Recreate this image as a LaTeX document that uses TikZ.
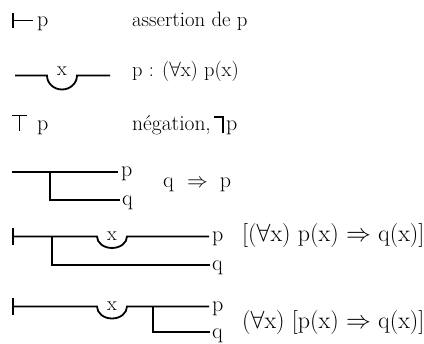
\documentclass[tikz,border=0pt]{standalone}
\begin{document}
\begin{tikzpicture}[x=1pt,y=-1pt,
  stroke/.style={line width=1.8pt,line cap=butt},
  txt/.style={inner sep=0pt,anchor=base west},
  lab/.style={font=\fontsize{22}{26}\selectfont,inner sep=0pt,anchor=base west},
  var/.style={font=\fontsize{20}{24}\selectfont,inner sep=0pt,anchor=base}]
\useasboundingbox (0,0) rectangle (424,344);
% ---- row 1 : assertion
\coordinate (r1a) at (13,13); \coordinate (r1b) at (13,28);
\node[lab] (r1p) at (37,27) {p};
\draw[stroke] (r1a) -- (r1b);
\draw[stroke] (13,20.5) -- ([xshift=-4pt]r1p.west |- 0,20.5);
\node[txt,font=\fontsize{20.8}{24}\selectfont] (r1t) at (132,27) {assertion de p};
% ---- row 2 : quantifier
\coordinate (r2s) at (15,75.5); \coordinate (r2e) at (110,75.5);
\draw[stroke] (r2s) -- (47,75.5) arc[start angle=180,end angle=0,x radius=15,y radius=14] -- (r2e);
\node[var] (r2x) at (62,76) {x};
\node[txt,font=\fontsize{20.4}{24}\selectfont] (r2t) at (132,77) {p : ($\forall$x) p(x)};
% ---- row 3 : negation
\coordinate (r3a) at (12,115.5); \coordinate (r3b) at (27,115.5);
\coordinate (r3c) at (19.5,115.5); \coordinate (r3d) at (19.5,131);
\draw[stroke] (r3a) -- (r3b);
\draw[stroke] (r3c) -- (r3d);
\node[lab] (r3p) at (37,131) {p};
\node[txt,font=\fontsize{21.5}{25}\selectfont] (r3t) at (132,131) {négation,};
\node[lab] (r3n) at (226,131) {p};
\draw[stroke] (214,117) -- (223,117) -- (223,133);
% ---- row 4 : conditional
\node[lab] (r4p) at (121,177) {p};
\node[lab] (r4q) at (122,206) {q};
\coordinate (r4s) at (12,172); \coordinate (r4k) at (50,172); \coordinate (r4l) at (50,200);
\draw[stroke] (r4s) -- ([xshift=-3pt]r4p.west |- r4s);
\draw[stroke] (r4k) -- (r4l) -- ([xshift=-2pt]r4q.west |- r4l);
\node[txt,font=\fontsize{22}{26}\selectfont] (r4t) at (163,188) {q\hspace{0.6em}$\Rightarrow$\hspace{0.55em}p};
% ---- row 5
\node[lab] (r5p) at (212,242) {p};
\node[lab] (r5q) at (212,271) {q};
\coordinate (r5a) at (13,228); \coordinate (r5b) at (13,245);
\draw[stroke] (r5a) -- (r5b);
\draw[stroke] (13,236.5) -- (97,236.5) arc[start angle=180,end angle=0,x radius=15,y radius=11.5] -- ([xshift=-3pt]r5p.west |- 0,236.5);
\node[var] (r5x) at (112,241) {x};
\coordinate (r5k) at (52,236.5); \coordinate (r5l) at (52,265);
\draw[stroke] (r5k) -- (r5l) -- ([xshift=-2pt]r5q.west |- r5l);
\node[txt,font=\fontsize{24}{28}\selectfont] (r5t) at (242,242) {[($\forall$x) p(x) $\Rightarrow$ q(x)]};
% ---- row 6
\node[lab] (r6p) at (212,312) {p};
\node[lab] (r6q) at (212,339) {q};
\coordinate (r6a) at (13,298); \coordinate (r6b) at (13,315);
\draw[stroke] (r6a) -- (r6b);
\draw[stroke] (13,306.5) -- (97,306.5) arc[start angle=180,end angle=0,x radius=15,y radius=12] -- ([xshift=-3pt]r6p.west |- 0,306.5);
\node[var] (r6x) at (112,311) {x};
\coordinate (r6k) at (153,306.5); \coordinate (r6l) at (153,332);
\draw[stroke] (r6k) -- (r6l) -- ([xshift=-2pt]r6q.west |- r6l);
\node[txt,font=\fontsize{24}{28}\selectfont] (r6t) at (242,329) {($\forall$x) [p(x) $\Rightarrow$ q(x)]};
\end{tikzpicture}
\end{document}
